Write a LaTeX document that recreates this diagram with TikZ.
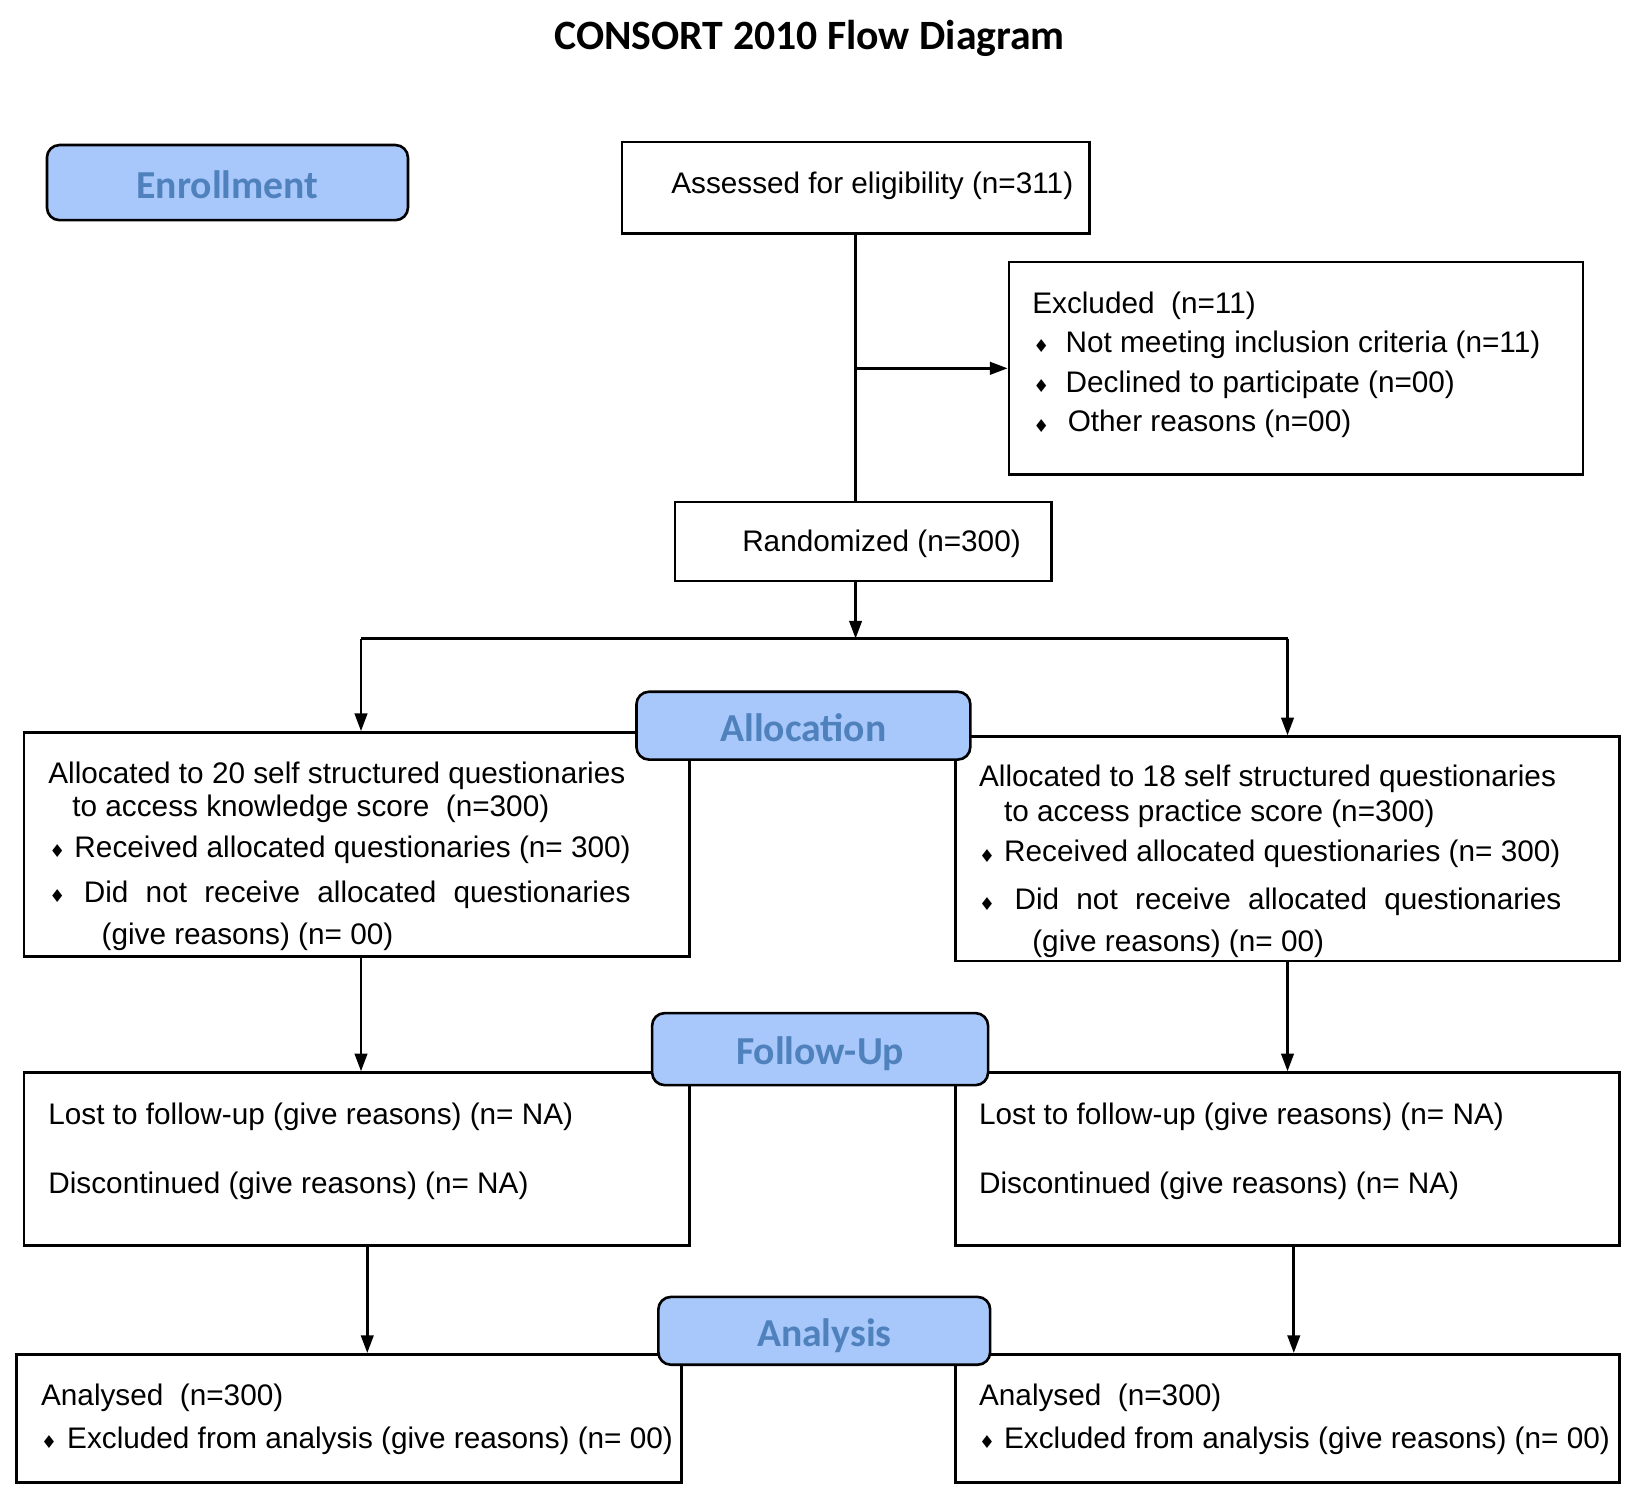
\documentclass[tikz,border=0pt]{standalone}
\usepackage{fontspec}
\setmainfont{Liberation Sans}
\newfontfamily\calibrif{Carlito}
\newfontfamily\dejavuf{DejaVu Sans}
\usetikzlibrary{arrows.meta}
\definecolor{lblfill}{RGB}{168,199,250}
\definecolor{lbltext}{RGB}{79,129,189}
\begin{document}
\begin{tikzpicture}[x=0.5pt,y=-0.5pt,
  sz/.style 2 args={minimum width=#1*0.5pt, minimum height=#2*0.5pt},
  box/.style={draw=black, line width=1.25pt, inner sep=0pt, fill=white},
  lbl/.style={draw=black, line width=1.25pt, fill=lblfill, rounded corners=6pt, inner sep=0pt, text height=15pt, text depth=0pt, text=lbltext, font=\calibrif\bfseries\fontsize{19}{22}\selectfont},
  txt/.style={anchor=base west, inner sep=0pt, font=\fontsize{14.25}{16}\selectfont},
  bul/.style={anchor=center, inner sep=0pt, font=\dejavuf\fontsize{8.5}{8.5}\selectfont},
  arr/.style={line width=1.25pt, -{Triangle[width=6pt,length=8.5pt]}},
  ln/.style={line width=1.25pt}]
\useasboundingbox (0,0) rectangle (1568,1441);

% title
\node[inner sep=0pt, font=\calibrif\bfseries\fontsize{20}{24}\selectfont] (title) at (776,37) {CONSORT 2010 Flow Diagram};

% boxes
\node[box, sz={448}{88}] (assess) at (820,180) {};
\node[box, sz={550}{204}] (excl) at (1242,353) {};
\node[box, sz={361}{76}] (rand) at (827.5,519) {};
\node[box, sz={638}{215}] (allocL) at (342,809.5) {};
\node[box, sz={636}{215}] (allocR) at (1234,813.5) {};
\node[box, sz={638}{166}] (fuL) at (342,1111) {};
\node[box, sz={636}{166}] (fuR) at (1234,1111) {};
\node[box, sz={637}{123}] (anL) at (334.5,1359.5) {};
\node[box, sz={636}{123}] (anR) at (1234,1359.5) {};

% connector coordinates
\coordinate (j1) at (820,353);
\coordinate (r1) at (820,612);
\coordinate (bl) at (346,612);
\coordinate (br) at (1234,612);
\coordinate (fl) at (352,1194);
\coordinate (fr) at (1240,1194);

\draw[ln] (assess.south -| j1) -- (rand.north -| j1);
\draw[arr] (j1) -- (excl.west);
\draw[arr] (rand.south -| r1) -- (r1);
\draw[ln] (bl) -- (br);
\draw[arr] (bl) -- (bl |- allocL.north);
\draw[arr] (br) -- (br |- allocR.north);
\draw[arr] (bl |- allocL.south) -- (bl |- fuL.north);
\draw[arr] (br |- allocR.south) -- (br |- fuR.north);
\draw[arr] (fl |- fuL.south) -- (fl |- anL.north);
\draw[arr] (fr |- fuR.south) -- (fr |- anR.north);

% stage labels
\node[lbl, sz={346}{72}] (enr) at (218,175) {Enrollment};
\node[lbl, sz={320}{65}] (alloc) at (770,695.5) {Allocation};
\node[lbl, sz={322}{69}] (follow) at (786,1005.5) {Follow-Up};
\node[lbl, sz={318}{65}] (anal) at (790,1275.5) {Analysis};

% texts
\node[txt] (tA) at (643,185) {Assessed for eligibility (n=311)};

\node[txt] (tE0) at (989,300) {Excluded\ \ (n=11)};
\node[bul] (bE1) at (998,332) {♦};
\node[txt] (tE1) at (1021,338) {Not meeting inclusion criteria (n=11)};
\node[bul] (bE2) at (998,370) {♦};
\node[txt] (tE2) at (1021,376) {Declined to participate (n=00)};
\node[bul] (bE3) at (998,408) {♦};
\node[txt] (tE3) at (1023,414) {Other reasons (n=00)};

\node[txt] (tR) at (711,529) {Randomized (n=300)};

\node[txt] (tL1) at (46,751) {Allocated to 20 self structured questionaries};
\node[txt] (tL2) at (69,783) {to access knowledge score\ \ (n=300)};
\node[bul] (bL3) at (55,816) {♦};
\node[txt] (tL3) at (71,822) {Received allocated questionaries (n= 300)};
\node[bul] (bL4) at (55,859) {♦};
\node[txt] (tL4) at (80,865) {\makebox[262pt][s]{Did not receive allocated questionaries}};
\node[txt] (tL5) at (97,905) {(give reasons) (n= 00)};

\node[txt] (tR1) at (938,754) {Allocated to 18 self structured questionaries};
\node[txt] (tR2) at (962,787) {to access practice score (n=300)};
\node[bul] (bR3) at (946,820) {♦};
\node[txt] (tR3) at (962,826) {Received allocated questionaries (n= 300)};
\node[bul] (bR4) at (946,866) {♦};
\node[txt] (tR4) at (972,872) {\makebox[262pt][s]{Did not receive allocated questionaries}};
\node[txt] (tR5) at (989,912) {(give reasons) (n= 00)};

\node[txt] (tFL1) at (46,1078) {Lost to follow-up (give reasons) (n= NA)};
\node[txt] (tFL2) at (46,1144) {Discontinued (give reasons) (n= NA)};
\node[txt] (tFR1) at (938,1078) {Lost to follow-up (give reasons) (n= NA)};
\node[txt] (tFR2) at (938,1144) {Discontinued (give reasons) (n= NA)};

\node[txt] (tAL1) at (39,1347) {Analysed\ \ (n=300)};
\node[bul] (bAL2) at (47,1382) {♦};
\node[txt] (tAL2) at (64,1388) {Excluded from analysis (give reasons) (n= 00)};
\node[txt] (tAR1) at (938,1347) {Analysed\ \ (n=300)};
\node[bul] (bAR2) at (946,1382) {♦};
\node[txt] (tAR2) at (962,1388) {Excluded from analysis (give reasons) (n= 00)};
\end{tikzpicture}
\end{document}
